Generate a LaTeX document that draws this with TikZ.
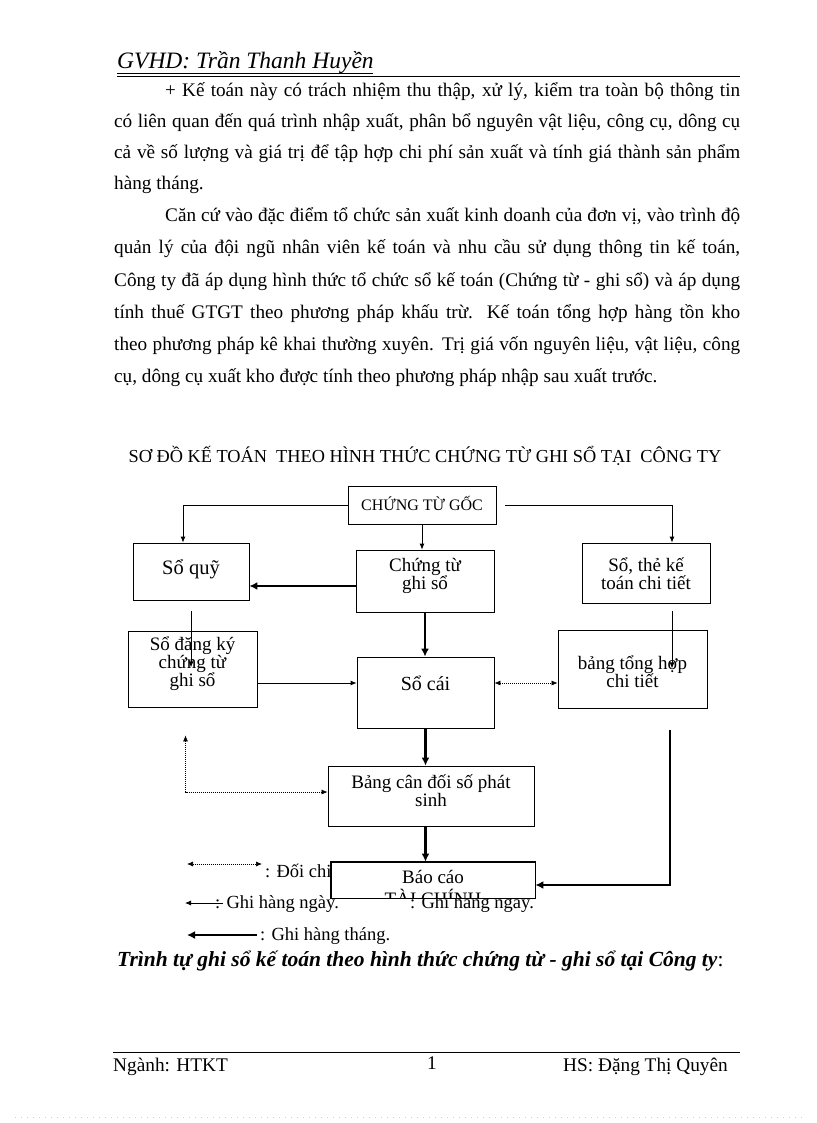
\documentclass[tikz,border=0pt]{standalone}
\usepackage{fontspec}
\setmainfont{Liberation Serif}
\usetikzlibrary{arrows.meta,positioning,calc}

\begin{document}
\begin{tikzpicture}[x=1pt,y=-1pt,
    box/.style={draw,line width=0.8pt,fill=white,inner sep=0pt},
    boxtext/.style={align=center,inner sep=0pt,font=\fontsize{19}{18}\selectfont},
    thinarrow/.style={line width=0.8pt,-{Latex[length=6pt,width=5pt]}},
    thickarrow/.style={line width=2.6pt,-{Latex[length=8pt,width=8pt]}},
    checkarrow/.style={line width=0.7pt,dash pattern=on 1pt off 1pt,{Latex[length=6pt,width=5pt]}-{Latex[length=6pt,width=5pt]}},
    body/.style={anchor=base west,inner sep=0pt,font=\fontsize{19.2}{20}\selectfont},
    legend/.style={anchor=base west,inner sep=0pt,font=\fontsize{18.5}{20}\selectfont}]

    \useasboundingbox[fill=white] (0,0) rectangle (816,1123);

    % header
    \node[anchor=base west,inner sep=0pt,font=\fontsize{23.5}{25}\selectfont\itshape] (gvhd) at (117,69) {GVHD: Trần Thanh Huyền};
    \draw[line width=0.6pt] (117,73) -- (373,73);
    \draw[line width=0.8pt] (117,76.5) -- (740,76.5);

    % text above the diagram
    \node[body] at (165,97) {\makebox[575pt][s]{+ Kế toán này có trách nhiệm thu thập, xử lý, kiểm tra toàn bộ thông tin}};
    \node[body] at (114,128) {\makebox[626pt][s]{có liên quan đến quá trình nhập xuất, phân bổ nguyên vật liệu, công cụ, dông cụ}};
    \node[body] at (114,159) {\makebox[626pt][s]{cả về số lượng và giá trị để tập hợp chi phí sản xuất và tính giá thành sản phẩm}};
    \node[body] at (114,190) {hàng tháng.};
    \node[body] at (165,222) {\makebox[575pt][s]{Căn cứ vào đặc điểm tổ chức sản xuất kinh doanh của đơn vị, vào trình độ}};
    \node[body] at (114,254) {\makebox[626pt][s]{quản lý của đội ngũ nhân viên kế toán và nhu cầu sử dụng thông tin kế toán,}};
    \node[body] at (114,286) {\makebox[626pt][s]{Công ty đã áp dụng hình thức tổ chức sổ kế toán (Chứng từ - ghi sổ) và áp dụng}};
    \node[body] at (114,318) {\makebox[626pt][s]{tính thuế GTGT theo phương pháp khấu trừ. Kế toán tổng hợp hàng tồn kho}};
    \node[body] at (114,350) {\makebox[626pt][s]{theo phương pháp kê khai thường xuyên. Trị giá vốn nguyên liệu, vật liệu, công}};
    \node[body] at (114,382) {cụ, dông cụ xuất kho được tính theo phương pháp nhập sau xuất trước.};

    % diagram title
    \node[anchor=base,inner sep=0pt,font=\fontsize{18.3}{20}\selectfont] (title) at (425,462) {SƠ ĐỒ KẾ TOÁN\ \ THEO HÌNH THỨC CHỨNG TỪ GHI SỔ TẠI\ \ CÔNG TY};

    % boxes
    \node[box,minimum width=148,minimum height=38] (goc) at (422,505) {};
    \node[boxtext,font=\fontsize{16}{18}\selectfont] at (422,503) {CHỨNG TỪ GỐC};
    \node[box,minimum width=116,minimum height=57] (quy) at (191,571.5) {};
    \node[boxtext,font=\fontsize{20.5}{21}\selectfont] at (191,569) {Sổ quỹ};
    \node[box,minimum width=138,minimum height=62] (ctgs) at (425,581) {};
    \node[boxtext] at (425,576) {Chứng từ\\ghi sổ};
    \node[box,minimum width=128,minimum height=60] (sothe) at (646,573) {};
    \node[boxtext] at (646,574) {Sổ, thẻ kế\\toán chi tiết};
    \node[box,minimum width=129,minimum height=76] (dangky) at (192.5,669) {};
    \node[boxtext] at (192.5,664) {Sổ đăng ký\\chứng từ\\ghi sổ};
    \node[box,minimum width=137,minimum height=71] (socai) at (425.5,692.5) {};
    \node[boxtext,font=\fontsize{20}{20}\selectfont] at (425.5,683) {Sổ cái};
    \node[box,minimum width=149,minimum height=78] (tonghop) at (632.5,669) {};
    \node[boxtext] at (632.5,672) {bảng tổng hợp\\chi tiết};
    \node[box,minimum width=206,minimum height=60] (cdps) at (431,796) {};
    \node[boxtext] at (431,791) {Bảng cân đối số phát\\sinh};

    % legend (partly hidden by the report box)
    \coordinate (l1a) at (187,864);
    \coordinate (l1b) at (262,864);
    \coordinate (l2a) at (223,903);
    \coordinate (l2b) at (185,903);
    \coordinate (l3a) at (257,935);
    \coordinate (l3b) at (187,935);
    \draw[checkarrow] (l1a) -- (l1b);
    \node[legend] at (265,877) {: Đối chiếu, kiểm tra.};
    \node[legend] at (215,908) {: Ghi hàng ngày.};
    \node[legend] at (410,908) {: Ghi hàng ngày.};
    \draw[thinarrow] (l2a) -- (l2b);
    \draw[thickarrow] (l3a) -- (l3b);
    \node[legend] at (260,940) {: Ghi hàng tháng.};

    % report box, second line cut off
    \node[box,minimum width=204,minimum height=36] (baocao) at (433,880) {};
    \begin{scope}
        \clip (baocao.south west) rectangle (baocao.north east);
        \node[boxtext] at (433,877) {Báo cáo};
        \node[boxtext] at (433,897) {TÀI CHÍNH};
    \end{scope}
    \draw[line width=0.8pt] (baocao.south west) rectangle (baocao.north east);

    % connectors
    \draw[thinarrow] (goc.west) -| ([xshift=-8pt]quy.north);
    \draw[thinarrow] (goc.south) -- (goc.south |- ctgs.north);
    \draw[thinarrow] ([xshift=9pt]goc.east) -| ([xshift=26pt]sothe.north);
    \coordinate (q) at ([yshift=-5pt]ctgs.west);
    \draw[thickarrow] (q) -- (q -| quy.east);
    \draw[thinarrow] ([yshift=-11pt]quy.south) -- ++(0,56);
    \draw[thickarrow] (ctgs.south) -- (ctgs.south |- socai.north);
    \coordinate (r) at ([yshift=-14pt]dangky.east);
    \draw[thinarrow] (r) -- (r -| socai.west);
    \draw[checkarrow] (r -| socai.east) -- (r -| tonghop.west);
    \draw[thinarrow] ([xshift=26pt,yshift=-8pt]sothe.south) -- ++(0,57);
    \draw[thickarrow] (socai.south) -- (socai.south |- cdps.north);
    \draw[checkarrow] ([xshift=-7pt,yshift=-28pt]dangky.south) |- ([yshift=4pt]cdps.west);
    \draw[thickarrow] ([xshift=37.5pt,yshift=-22pt]tonghop.south) |- ([yshift=-5pt]baocao.east);
    \draw[thickarrow] (cdps.south -| socai.south) -- (socai.south |- baocao.north);

    % caption
    \node[anchor=base west,inner sep=0pt,font=\fontsize{21.5}{23}\selectfont] (caption) at (117,966) {\textbf{\textit{Trình tự ghi sổ kế toán theo hình thức chứng từ - ghi sổ tại Công ty}}:};

    % footer
    \draw[line width=0.8pt] (113,1052) -- (740,1052);
    \node[anchor=base west,inner sep=0pt,font=\fontsize{19.3}{20}\selectfont] (nganh) at (113,1071) {Ngành: HTKT};
    \node[anchor=base,inner sep=0pt,font=\fontsize{19.3}{20}\selectfont] (trang) at (432,1069) {1};
    \node[anchor=base east,inner sep=0pt,font=\fontsize{19.3}{20}\selectfont] (hs) at (728,1071) {HS: Đặng Thị Quyên};
    \draw[gray!40,line width=0.6pt,dash pattern=on 1pt off 5pt] (15,1117) -- (802,1117);
\end{tikzpicture}
\end{document}
